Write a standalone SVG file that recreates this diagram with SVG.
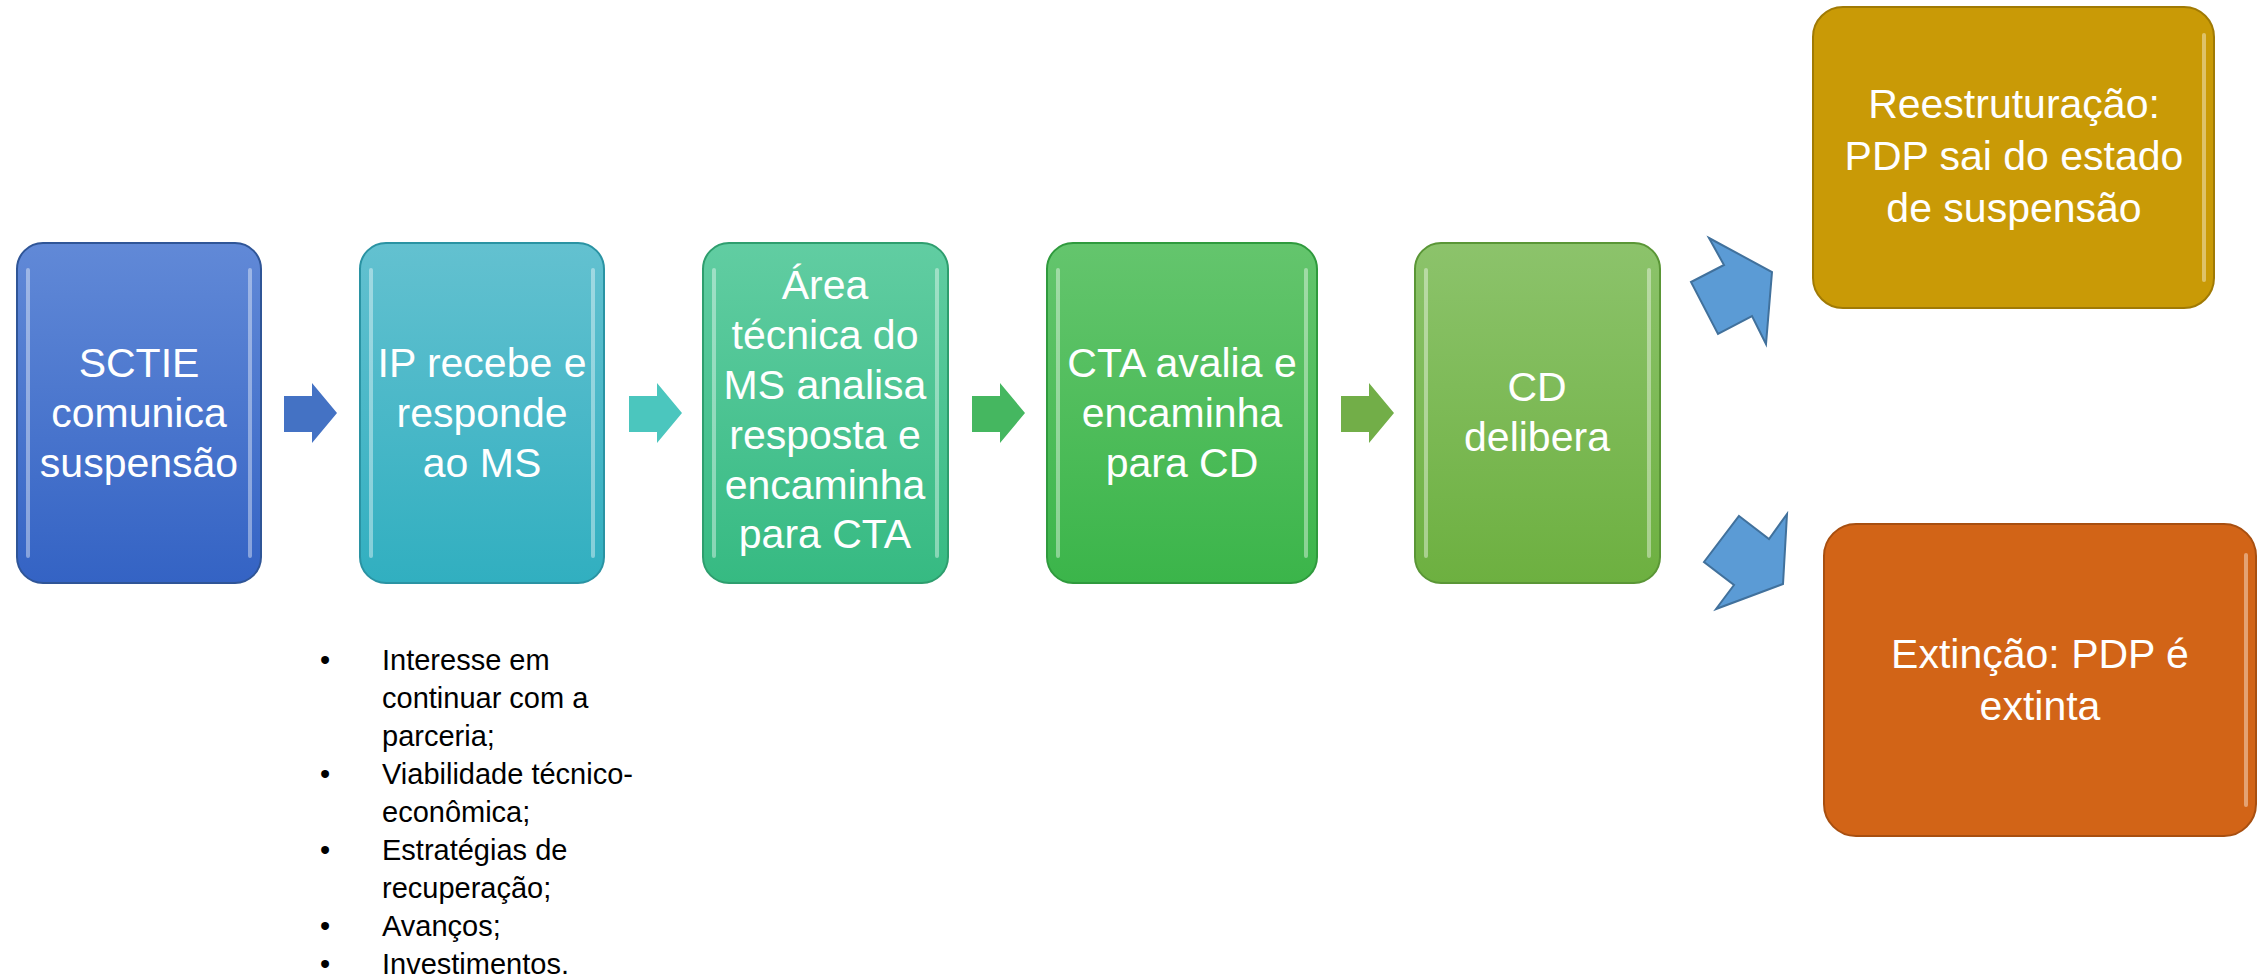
<svg xmlns="http://www.w3.org/2000/svg" width="2262" height="980" viewBox="0 0 2262 980">
<defs>
<linearGradient id="g1" x1="0" y1="0" x2="0" y2="1"><stop offset="0" stop-color="#6189D7"/><stop offset="1" stop-color="#3463C4"/></linearGradient>
<linearGradient id="g2" x1="0" y1="0" x2="0" y2="1"><stop offset="0" stop-color="#63C1D0"/><stop offset="1" stop-color="#31AFC0"/></linearGradient>
<linearGradient id="g3" x1="0" y1="0" x2="0" y2="1"><stop offset="0" stop-color="#61CDA2"/><stop offset="1" stop-color="#36BA82"/></linearGradient>
<linearGradient id="g4" x1="0" y1="0" x2="0" y2="1"><stop offset="0" stop-color="#64C56D"/><stop offset="1" stop-color="#3BB54A"/></linearGradient>
<linearGradient id="g5" x1="0" y1="0" x2="0" y2="1"><stop offset="0" stop-color="#8CC36B"/><stop offset="1" stop-color="#6DB040"/></linearGradient>
</defs>
<style>
.box{stroke-width:2}
.hl{fill:none;stroke:#ffffff;stroke-opacity:0.4;stroke-width:4;stroke-linecap:round}
.t{font-family:"Liberation Sans",Arial,sans-serif;font-size:41px;fill:#ffffff;text-anchor:middle}
.b{font-family:"Liberation Sans",Arial,sans-serif;font-size:29px;fill:#000000}
.big{fill:#5B9BD5;stroke:#41719C;stroke-width:2;stroke-linejoin:miter}
</style>

<g id="node1">
<rect class="box" x="17" y="243" width="244" height="340" rx="26" fill="url(#g1)" stroke="#2F5597"/>
<path class="hl" d="M28,270 V556 M250,270 V556"/>
<text class="t" x="139" y="377">SCTIE</text>
<text class="t" x="139" y="427">comunica</text>
<text class="t" x="139" y="477">suspensão</text>
</g>

<g id="node2">
<rect class="box" x="360" y="243" width="244" height="340" rx="26" fill="url(#g2)" stroke="#2A93A3"/>
<path class="hl" d="M371,270 V556 M593,270 V556"/>
<text class="t" x="482" y="377">IP recebe e</text>
<text class="t" x="482" y="427">responde</text>
<text class="t" x="482" y="477">ao MS</text>
</g>

<g id="node3">
<rect class="box" x="703" y="243" width="245" height="340" rx="26" fill="url(#g3)" stroke="#2E9E6E"/>
<path class="hl" d="M714,270 V556 M937,270 V556"/>
<text class="t" x="825" y="299">Área</text>
<text class="t" x="825" y="349">técnica do</text>
<text class="t" x="825" y="399">MS analisa</text>
<text class="t" x="825" y="449">resposta e</text>
<text class="t" x="825" y="499">encaminha</text>
<text class="t" x="825" y="548">para CTA</text>
</g>

<g id="node4">
<rect class="box" x="1047" y="243" width="270" height="340" rx="26" fill="url(#g4)" stroke="#2F9A3D"/>
<path class="hl" d="M1058,270 V556 M1306,270 V556"/>
<text class="t" x="1182" y="377">CTA avalia e</text>
<text class="t" x="1182" y="427">encaminha</text>
<text class="t" x="1182" y="477">para CD</text>
</g>

<g id="node5">
<rect class="box" x="1415" y="243" width="245" height="340" rx="26" fill="url(#g5)" stroke="#5A9636"/>
<path class="hl" d="M1426,270 V556 M1649,270 V556"/>
<text class="t" x="1537" y="401">CD</text>
<text class="t" x="1537" y="451">delibera</text>
</g>

<g id="node6">
<rect class="box" x="1813" y="7" width="401" height="301" rx="30" fill="#C99A06" stroke="#A07A04"/>
<path class="hl" d="M2204,35 V280" stroke-opacity="0.3"/>
<text class="t" x="2014" y="118">Reestruturação:</text>
<text class="t" x="2014" y="170">PDP sai do estado</text>
<text class="t" x="2014" y="222">de suspensão</text>
</g>

<g id="node7">
<rect class="box" x="1824" y="524" width="432" height="312" rx="32" fill="#D26417" stroke="#A84F10"/>
<path class="hl" d="M2246,555 V805" stroke-opacity="0.3"/>
<text class="t" x="2040" y="668">Extinção: PDP é</text>
<text class="t" x="2040" y="720">extinta</text>
</g>

<g id="notes">
<text class="b" x="320" y="670">•</text><text class="b" x="382" y="670">Interesse em</text>
<text class="b" x="382" y="708">continuar com a</text>
<text class="b" x="382" y="746">parceria;</text>
<text class="b" x="320" y="784">•</text><text class="b" x="382" y="784">Viabilidade técnico-</text>
<text class="b" x="382" y="822">econômica;</text>
<text class="b" x="320" y="860">•</text><text class="b" x="382" y="860">Estratégias de</text>
<text class="b" x="382" y="898">recuperação;</text>
<text class="b" x="320" y="936">•</text><text class="b" x="382" y="936">Avanços;</text>
<text class="b" x="320" y="974">•</text><text class="b" x="382" y="974">Investimentos.</text>
</g>

<g id="connectors">
<polygon points="284,396 312,396 312,383 337,413 312,443 312,432 284,432" fill="#4472C4"/>
<polygon points="629,396 657,396 657,383 682,413 657,443 657,432 629,432" fill="#4BC6BE"/>
<polygon points="972,396 1000,396 1000,383 1025,413 1000,443 1000,432 972,432" fill="#45B760"/>
<polygon points="1341,396 1369,396 1369,383 1394,413 1369,443 1369,432 1341,432" fill="#72AE48"/>
<polygon class="big" points="1709,238 1772,272 1766,344 1752,316 1718,334 1691,282 1724,265"/>
<polygon class="big" points="1739,516 1769,539 1787,514 1783,584 1716,609 1734,585 1704,562"/>
</g>
</svg>
